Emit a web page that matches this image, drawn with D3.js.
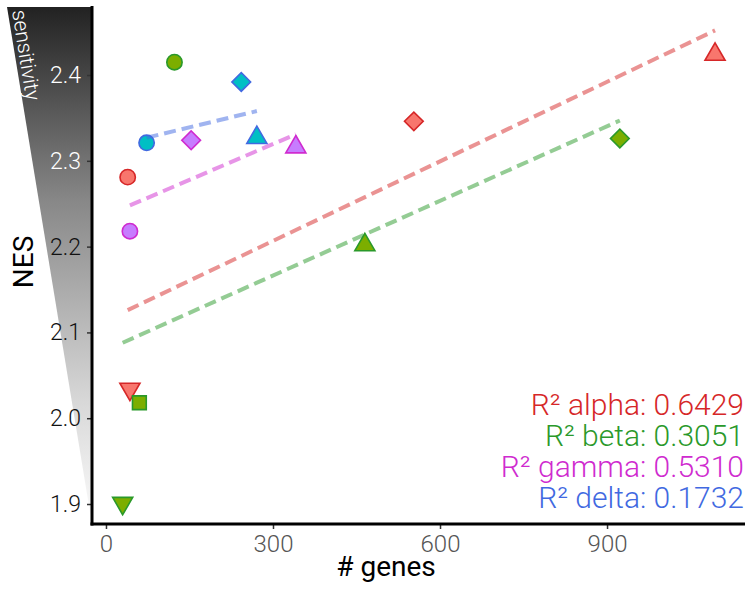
<!DOCTYPE html>
<html>
<head>
<meta charset="utf-8">
<script src="https://cdn.jsdelivr.net/npm/d3@7"></script>
<style>
  html, body { margin: 0; padding: 0; background: #fff; }
  svg { display: block; font-family: Roboto, "Noto Sans", sans-serif; }
</style>
</head>
<body>
<div id="chart"></div>
<script>
// NES vs number of genes, per group, with linear fits

const groups = ['alpha', 'beta', 'gamma', 'delta'];
const r2Labels = ['0.6429', '0.3051', '0.5310', '0.1732'];

const alphaGenes = [39, 553, 1094, 43];
const alphaNES = [2.281, 2.346, 2.424, 2.034];
const alphaShapes = ['circle', 'diamond', 'triangle', 'triangleDown'];

const betaGenes = [123, 465, 923, 60, 30];
const betaNES = [2.415, 2.202, 2.326, 2.018, 1.901];
const betaShapes = ['circle', 'triangle', 'diamond', 'square', 'triangleDown'];

const gammaGenes = [43, 153, 341];
const gammaNES = [2.218, 2.324, 2.316];
const gammaShapes = ['circle', 'diamond', 'triangle'];

const deltaGenes = [73, 243, 271];
const deltaNES = [2.321, 2.392, 2.327];
const deltaShapes = ['circle', 'diamond', 'triangle'];

// fitted NES at the smallest and largest gene count of each group
const fitStart = [2.126, 2.088, 2.248, 2.327];
const fitEnd = [2.452, 2.347, 2.331, 2.358];

const xTicks = [0, 300, 600, 900];
const yTicks = [1.9, 2.0, 2.1, 2.2, 2.3, 2.4];

const groupGenes = [alphaGenes, betaGenes, gammaGenes, deltaGenes];
const groupNES = [alphaNES, betaNES, gammaNES, deltaNES];
const groupShapes = [alphaShapes, betaShapes, gammaShapes, deltaShapes];

const fillColors = ['#F8766D', '#7CAE00', '#C77CFF', '#00BFC4'];
const strokeColors = ['#D62728', '#2A992A', '#CF2BCF', '#4169E1'];

const width = 750;
const height = 592;

const svg = d3.select('#chart').append('svg')
  .attr('width', width)
  .attr('height', height);

const x = d3.scaleLinear().domain([-25.1, 1147.8]).range([92, 745]);
const y = d3.scaleLinear().domain([1.8767, 2.4793]).range([524, 7]);

// sensitivity wedge
const defs = svg.append('defs');
const grad = defs.append('linearGradient')
  .attr('id', 'wedge-grad')
  .attr('x1', 0).attr('y1', 0).attr('x2', 0).attr('y2', 1);
grad.append('stop').attr('offset', '0%').attr('stop-color', '#222');
grad.append('stop').attr('offset', '38%').attr('stop-color', '#888');
grad.append('stop').attr('offset', '77%').attr('stop-color', '#d8d8d8');
grad.append('stop').attr('offset', '100%').attr('stop-color', '#fbfbfb');

svg.append('path')
  .attr('d', 'M7,7 L92,7 L92,520 L90,512 Z')
  .attr('fill', 'url(#wedge-grad)');

svg.append('text')
  .attr('transform', 'translate(12,11) rotate(81)')
  .attr('fill', '#fff')
  .attr('font-size', 21)
  .attr('font-weight', 300)
  .text('sensitivity');

// axes
const yAxis = svg.append('g')
  .attr('transform', 'translate(92,0)')
  .call(d3.axisLeft(y).tickValues(yTicks).tickFormat(d3.format('.1f')).tickSize(5).tickPadding(6));
yAxis.select('.domain').remove();
yAxis.selectAll('.tick line').attr('stroke', '#333').attr('stroke-width', 1.5);
yAxis.selectAll('.tick text')
  .attr('font-size', 23)
  .attr('font-weight', 300)
  .attr('font-family', 'Roboto, sans-serif')
  .attr('fill', d => d >= 2.25 ? '#fff' : '#111');

const xAxis = svg.append('g')
  .attr('transform', 'translate(0,524)')
  .call(d3.axisBottom(x).tickValues(xTicks).tickSize(5).tickPadding(6));
xAxis.select('.domain').remove();
xAxis.selectAll('.tick line').attr('stroke', '#333').attr('stroke-width', 1.5);
xAxis.selectAll('.tick text')
  .attr('font-size', 24)
  .attr('font-weight', 300)
  .attr('font-family', 'Roboto, sans-serif')
  .attr('fill', '#555');

svg.append('line')
  .attr('x1', 92).attr('x2', 92).attr('y1', 6).attr('y2', 525.5)
  .attr('stroke', '#000').attr('stroke-width', 3);
svg.append('line')
  .attr('x1', 90.5).attr('x2', 745).attr('y1', 524).attr('y2', 524)
  .attr('stroke', '#000').attr('stroke-width', 3);

// axis titles
svg.append('text')
  .attr('transform', 'translate(33,262) rotate(-90)')
  .attr('text-anchor', 'middle')
  .attr('font-size', 28)
  .attr('fill', '#000')
  .text('NES');

svg.append('text')
  .attr('x', 386)
  .attr('y', 576)
  .attr('text-anchor', 'middle')
  .attr('font-size', 28)
  .attr('fill', '#000')
  .text('# genes');

// points
const symbolFor = {
  circle: { type: d3.symbolCircle, size: 185, rot: 0 },
  triangle: { type: d3.symbolTriangle, size: 175, rot: 0 },
  triangleDown: { type: d3.symbolTriangle, size: 175, rot: 180 },
  diamond: { type: d3.symbolSquare, size: 175, rot: 45 },
  square: { type: d3.symbolSquare, size: 190, rot: 0 }
};

const points = [];
groups.forEach((g, i) => {
  groupGenes[i].forEach((v, j) => {
    points.push({ group: i, genes: v, nes: groupNES[i][j], shape: groupShapes[i][j] });
  });
});

svg.append('g').selectAll('path')
  .data(points)
  .enter()
  .append('path')
  .attr('d', d => d3.symbol().type(symbolFor[d.shape].type).size(symbolFor[d.shape].size)())
  .attr('transform', d => `translate(${x(d.genes)},${y(d.nes)}) rotate(${symbolFor[d.shape].rot})`)
  .attr('fill', d => fillColors[d.group])
  .attr('stroke', d => strokeColors[d.group])
  .attr('stroke-width', 1.6);

// fit lines
const fits = groups.map((g, i) => {
  const ext = d3.extent(groupGenes[i]);
  return { group: i, x0: ext[0], x1: ext[1], y0: fitStart[i], y1: fitEnd[i] };
});

svg.append('g').selectAll('line')
  .data(fits)
  .enter()
  .append('line')
  .attr('x1', d => x(d.x0))
  .attr('x2', d => x(d.x1))
  .attr('y1', d => y(d.y0))
  .attr('y2', d => y(d.y1))
  .attr('stroke', d => strokeColors[d.group])
  .attr('stroke-opacity', 0.5)
  .attr('stroke-width', 4)
  .attr('stroke-dasharray', '12 6');

// R² labels
svg.append('g').selectAll('text')
  .data(groups)
  .enter()
  .append('text')
  .attr('x', 744)
  .attr('y', (d, i) => 415 + i * 31)
  .attr('text-anchor', 'end')
  .attr('font-size', 30)
  .attr('font-weight', 300)
  .attr('fill', (d, i) => strokeColors[i])
  .text((d, i) => `R² ${d}: ${r2Labels[i]}`);
</script>
</body>
</html>
